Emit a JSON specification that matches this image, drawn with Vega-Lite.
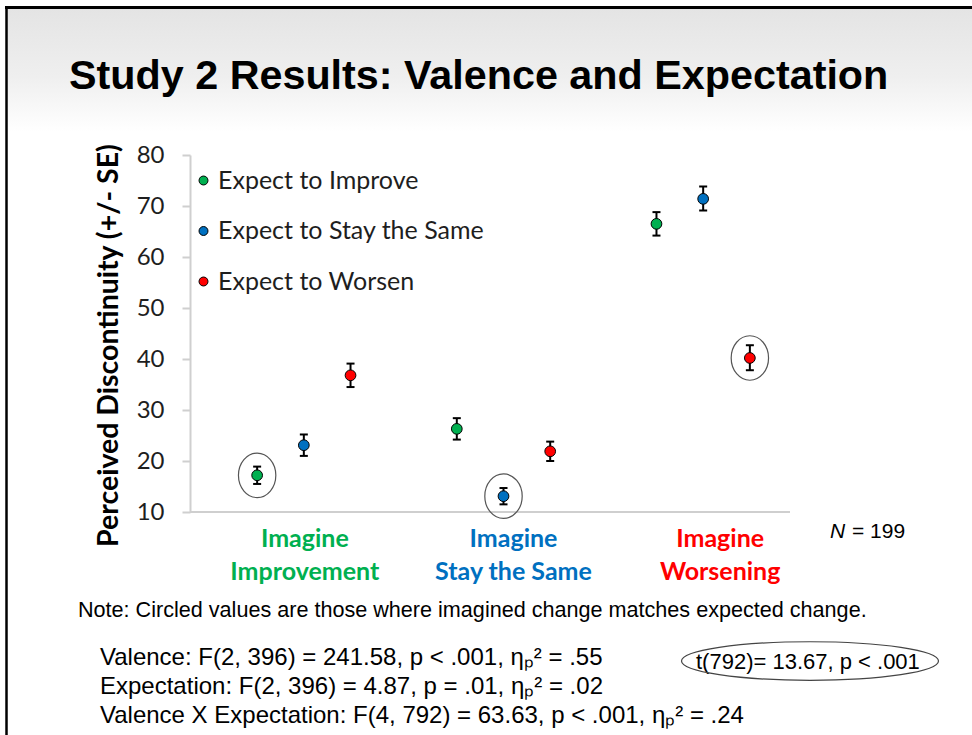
{
  "$schema": "https://vega.github.io/schema/vega-lite/v6.json",
  "width": 600,
  "height": 357,
  "autosize": {"type": "none"},
  "padding": {"left": 190, "top": 155, "right": 182, "bottom": 223},
  "background": "white",
  "config": {"view": {"stroke": null}, "font": "Lato"},
  "title": {
    "text": "Study 2 Results: Valence and Expectation",
    "anchor": "start",
    "frame": "group",
    "dx": -121,
    "offset": -93,
    "fontSize": 41.3,
    "font": "Liberation Sans",
    "fontWeight": "bold",
    "color": "black"
  },
  "data": {
    "values": [
      {"imagine": "Imagine Improvement", "expect": "Expect to Improve", "mean": 17.2, "lo": 15.5, "hi": 18.9, "matched": true},
      {"imagine": "Imagine Improvement", "expect": "Expect to Stay the Same", "mean": 23.1, "lo": 21.0, "hi": 25.2, "matched": false},
      {"imagine": "Imagine Improvement", "expect": "Expect to Worsen", "mean": 36.8, "lo": 34.5, "hi": 39.1, "matched": false},
      {"imagine": "Imagine Stay the Same", "expect": "Expect to Improve", "mean": 26.3, "lo": 24.2, "hi": 28.4, "matched": false},
      {"imagine": "Imagine Stay the Same", "expect": "Expect to Stay the Same", "mean": 13.1, "lo": 11.5, "hi": 14.7, "matched": true},
      {"imagine": "Imagine Stay the Same", "expect": "Expect to Worsen", "mean": 21.9, "lo": 20.0, "hi": 23.8, "matched": false},
      {"imagine": "Imagine Worsening", "expect": "Expect to Improve", "mean": 66.5, "lo": 64.2, "hi": 68.8, "matched": false},
      {"imagine": "Imagine Worsening", "expect": "Expect to Stay the Same", "mean": 71.4, "lo": 69.1, "hi": 73.8, "matched": false},
      {"imagine": "Imagine Worsening", "expect": "Expect to Worsen", "mean": 40.2, "lo": 37.8, "hi": 42.7, "matched": true}
    ]
  },
  "layer": [
    {
      "data": {"values": [{}]},
      "mark": {"type": "rect", "color": {"gradient": "linear", "x1": 0, "y1": 0, "x2": 0, "y2": 1, "stops": [{"offset": 0, "color": "#e4e4e4"}, {"offset": 0.55, "color": "#efefef"}, {"offset": 1, "color": "#ffffff"}]}},
      "encoding": {"x": {"value": -183}, "x2": {"value": 782}, "y": {"value": -146}, "y2": {"value": -23}}
    },
    {
      "data": {"values": [{}]},
      "mark": {"type": "rule", "color": "black", "strokeWidth": 3},
      "encoding": {"x": {"value": -185}, "x2": {"value": 782}, "y": {"value": -147.5}}
    },
    {
      "data": {"values": [{}]},
      "mark": {"type": "rule", "color": "black", "strokeWidth": 2.5},
      "encoding": {"x": {"value": -183.5}, "y": {"value": -149}, "y2": {"value": 580}}
    },
    {
      "data": {"values": [{}]},
      "mark": {"type": "rule", "color": "#cfcfcf", "strokeWidth": 2},
      "encoding": {"y": {"datum": 10, "type": "quantitative"}}
    },
    {
      "transform": [{"filter": "datum.matched"}],
      "mark": {"type": "point", "shape": "M-0.84,0A0.84,1 0 1,1 0.84,0A0.84,1 0 1,1 -0.84,0Z", "size": 1980, "filled": false, "color": "#555555", "strokeWidth": 1.2, "opacity": 1},
      "encoding": {
        "x": {"field": "imagine", "type": "nominal", "sort": ["Imagine Improvement", "Imagine Stay the Same", "Imagine Worsening"], "scale": {"range": [14, 613], "paddingInner": 0, "paddingOuter": 0}},
        "xOffset": {"field": "expect", "type": "nominal", "sort": ["Expect to Improve", "Expect to Stay the Same", "Expect to Worsen"], "scale": {"paddingOuter": 0.638, "paddingInner": 0}},
        "y": {"field": "mean", "type": "quantitative"}
      }
    },
    {
      "mark": {"type": "rule", "color": "black", "strokeWidth": 2},
      "encoding": {
        "x": {"field": "imagine", "type": "nominal", "sort": ["Imagine Improvement", "Imagine Stay the Same", "Imagine Worsening"]},
        "xOffset": {"field": "expect", "type": "nominal", "sort": ["Expect to Improve", "Expect to Stay the Same", "Expect to Worsen"]},
        "y": {"field": "lo", "type": "quantitative"},
        "y2": {"field": "hi"}
      }
    },
    {
      "mark": {"type": "tick", "color": "black", "size": 8, "thickness": 2, "opacity": 1},
      "encoding": {
        "x": {"field": "imagine", "type": "nominal", "sort": ["Imagine Improvement", "Imagine Stay the Same", "Imagine Worsening"]},
        "xOffset": {"field": "expect", "type": "nominal", "sort": ["Expect to Improve", "Expect to Stay the Same", "Expect to Worsen"]},
        "y": {"field": "lo", "type": "quantitative"}
      }
    },
    {
      "mark": {"type": "tick", "color": "black", "size": 8, "thickness": 2, "opacity": 1},
      "encoding": {
        "x": {"field": "imagine", "type": "nominal", "sort": ["Imagine Improvement", "Imagine Stay the Same", "Imagine Worsening"]},
        "xOffset": {"field": "expect", "type": "nominal", "sort": ["Expect to Improve", "Expect to Stay the Same", "Expect to Worsen"]},
        "y": {"field": "hi", "type": "quantitative"}
      }
    },
    {
      "mark": {"type": "point", "filled": true, "size": 115, "stroke": "black", "strokeWidth": 1, "opacity": 1},
      "encoding": {
        "x": {
          "field": "imagine", "type": "nominal",
          "sort": ["Imagine Improvement", "Imagine Stay the Same", "Imagine Worsening"],
          "axis": {
            "title": null, "domain": false, "ticks": false,
            "labelAngle": 0, "labelAlign": "center", "labelBaseline": "top",
            "labelExpr": "['Imagine', replace(datum.label, 'Imagine ', '')]",
            "labelFont": "Lato", "labelFontWeight": "bold", "labelFontSize": 25,
            "labelLineHeight": 33, "labelPadding": 14, "labelLimit": 400,
            "labelColor": {"expr": "datum.value == 'Imagine Improvement' ? '#00B050' : datum.value == 'Imagine Stay the Same' ? '#0070C0' : '#FF0000'"},
            "labelOffset": {"expr": "datum.value == 'Imagine Worsening' ? 17 : datum.value == 'Imagine Stay the Same' ? 10 : 1"}
          }
        },
        "xOffset": {"field": "expect", "type": "nominal", "sort": ["Expect to Improve", "Expect to Stay the Same", "Expect to Worsen"]},
        "y": {
          "field": "mean", "type": "quantitative",
          "scale": {"domain": [10, 80], "nice": false, "zero": false},
          "axis": {
            "title": "Perceived Discontinuity (+/- SE)",
            "values": [10, 20, 30, 40, 50, 60, 70, 80],
            "grid": false,
            "domainColor": "#cfcfcf", "domainWidth": 2,
            "tickColor": "#cfcfcf", "tickSize": 8, "tickWidth": 2,
            "labelFont": "Lato", "labelFontSize": 24, "labelColor": "#1e1e1e", "labelPadding": 18,
            "titleFont": "Lato", "titleFontWeight": "bold", "titleFontSize": 28.5, "titleColor": "black", "titlePadding": 13, "titleY": 190
          }
        },
        "color": {
          "field": "expect", "type": "nominal",
          "sort": ["Expect to Improve", "Expect to Stay the Same", "Expect to Worsen"],
          "scale": {"domain": ["Expect to Improve", "Expect to Stay the Same", "Expect to Worsen"], "range": ["#00B050", "#0070C0", "#FF0000"]},
          "legend": {
            "orient": "none", "legendX": 1, "legendY": 13, "title": null,
            "labelFont": "Lato", "labelFontSize": 25, "labelColor": "#1e1e1e", "labelLimit": 500,
            "symbolType": "circle", "symbolSize": 80, "symbolStrokeColor": "black", "symbolStrokeWidth": 1, "symbolOpacity": 1,
            "rowPadding": 24.5, "labelOffset": 2
          }
        }
      }
    },
    {
      "mark": {"type": "text", "text": "N", "font": "Liberation Sans", "fontStyle": "italic", "fontSize": 21, "align": "left", "baseline": "alphabetic", "color": "black"},
      "data": {"values": [{}]},
      "encoding": {"x": {"value": 640}, "y": {"value": 383}}
    },
    {
      "mark": {"type": "text", "text": "= 199", "font": "Liberation Sans", "fontSize": 21, "align": "left", "baseline": "alphabetic", "color": "black"},
      "data": {"values": [{}]},
      "encoding": {"x": {"value": 662}, "y": {"value": 383}}
    },
    {
      "mark": {"type": "text", "text": "Note: Circled values are those where imagined change matches expected change.", "font": "Liberation Sans", "fontSize": 21.6, "align": "left", "baseline": "alphabetic", "color": "black"},
      "data": {"values": [{}]},
      "encoding": {"x": {"value": -112}, "y": {"value": 462}}
    },
    {
      "mark": {"type": "text", "text": "Valence: F(2, 396) = 241.58, p < .001, ηₚ² = .55", "font": "Liberation Sans", "fontSize": 24, "align": "left", "baseline": "alphabetic", "color": "black"},
      "data": {"values": [{}]},
      "encoding": {"x": {"value": -90}, "y": {"value": 510}}
    },
    {
      "mark": {"type": "text", "text": "Expectation:  F(2, 396) = 4.87, p = .01, ηₚ² = .02", "font": "Liberation Sans", "fontSize": 24, "align": "left", "baseline": "alphabetic", "color": "black"},
      "data": {"values": [{}]},
      "encoding": {"x": {"value": -90}, "y": {"value": 539}}
    },
    {
      "mark": {"type": "text", "text": "Valence X Expectation: F(4, 792) = 63.63, p < .001, ηₚ² = .24", "font": "Liberation Sans", "fontSize": 24, "align": "left", "baseline": "alphabetic", "color": "black"},
      "data": {"values": [{}]},
      "encoding": {"x": {"value": -90}, "y": {"value": 568}}
    },
    {
      "mark": {"type": "text", "text": "t(792)= 13.67, p < .001", "font": "Liberation Sans", "fontSize": 22, "align": "left", "baseline": "alphabetic", "color": "black"},
      "data": {"values": [{}]},
      "encoding": {"x": {"value": 506}, "y": {"value": 514}}
    },
    {
      "mark": {"type": "point", "shape": "M-1,0A1,0.15 0 1,1 1,0A1,0.15 0 1,1 -1,0Z", "size": 66049, "filled": false, "color": "#444444", "strokeWidth": 1.2, "opacity": 1},
      "data": {"values": [{}]},
      "encoding": {"x": {"value": 620}, "y": {"value": 506}}
    }
  ]
}
